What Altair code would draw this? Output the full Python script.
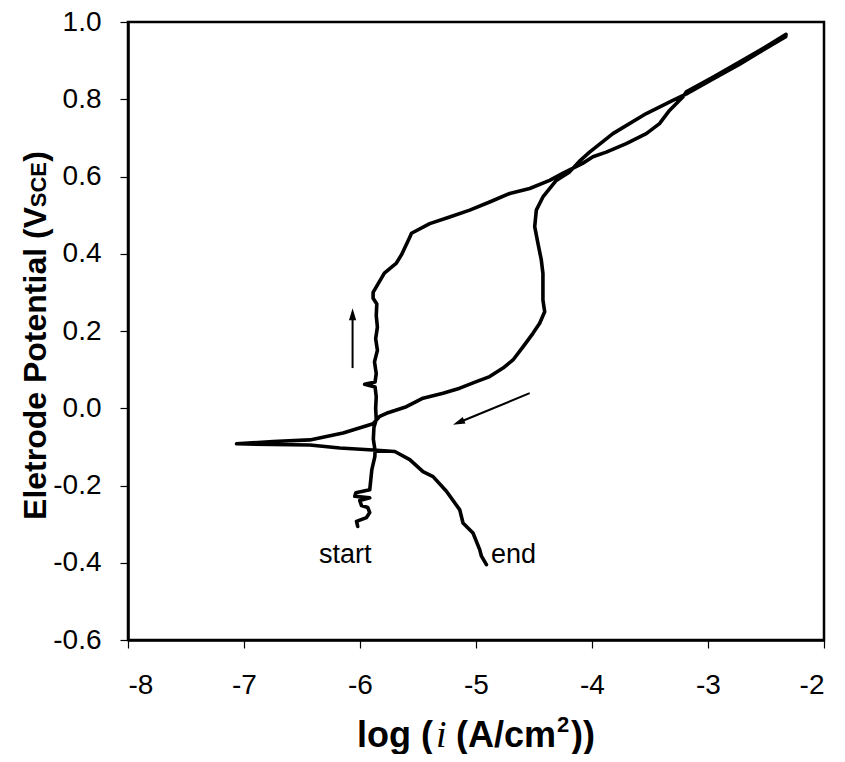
import altair as alt
import pandas as pd

# forward (anodic) scan: start -> top
fwd_x = [-6.02, -6.03, -5.944, -5.916, -5.933, -5.987, -6.002, -5.916, -6.045, -6.036,
         -5.916, -5.907, -5.898, -5.872, -5.87, -5.885, -5.88, -5.86, -5.865, -5.86,
         -5.87, -5.96, -5.87, -5.86, -5.875, -5.85, -5.865, -5.85, -5.86, -5.855,
         -5.887, -5.887, -5.79, -5.686, -5.643, -5.571, -5.556, -5.399, -5.227, -5.054,
         -4.882, -4.710, -4.537, -4.365, -4.253, -4.081, -3.992, -3.877, -3.705, -3.532,
         -3.418, -3.332, -3.217, -3.188, -2.959, -2.729, -2.557, -2.327]
fwd_y = [-0.306, -0.293, -0.283, -0.270, -0.257, -0.252, -0.239, -0.232, -0.228, -0.219,
         -0.211, -0.185, -0.159, -0.125, -0.11, -0.08, -0.05, -0.03, 0.0, 0.03,
         0.055, 0.062, 0.068, 0.09, 0.12, 0.15, 0.18, 0.21, 0.24, 0.27,
         0.285, 0.30, 0.35, 0.376, 0.397, 0.443, 0.453, 0.478, 0.495, 0.513,
         0.534, 0.556, 0.569, 0.590, 0.608, 0.634, 0.651, 0.663, 0.685, 0.711,
         0.737, 0.771, 0.806, 0.819, 0.857, 0.896, 0.926, 0.968]

# reverse scan: top -> end
rev_x = [-2.33, -2.56, -2.73, -2.96, -3.19, -3.303, -3.532, -3.820, -4.021, -4.10,
         -4.193, -4.308, -4.423, -4.480, -4.494, -4.466, -4.437, -4.423, -4.423, -4.408,
         -4.451, -4.509, -4.595, -4.681, -4.767, -4.882, -4.997, -5.140, -5.284, -5.457,
         -5.600, -5.772, -5.830, -5.887, -6.146, -6.432, -6.749, -7.064, -6.75, -6.432,
         -6.174, -5.887, -5.700, -5.571, -5.457, -5.370, -5.255, -5.140, -5.112, -5.026,
         -4.968, -4.953, -4.910]
rev_y = [0.962, 0.921, 0.890, 0.852, 0.813, 0.797, 0.763, 0.711, 0.663, 0.642,
         0.612, 0.590, 0.547, 0.513, 0.470, 0.427, 0.384, 0.349, 0.280, 0.250,
         0.220, 0.194, 0.159, 0.125, 0.104, 0.082, 0.069, 0.052, 0.039, 0.026,
         0.004, -0.013, -0.021, -0.040, -0.064, -0.082, -0.086, -0.092, -0.094, -0.095,
         -0.103, -0.108, -0.112, -0.133, -0.164, -0.177, -0.215, -0.263, -0.297, -0.323,
         -0.366, -0.383, -0.405]

x_ticks = [-8, -7, -6, -5, -4, -3, -2]
y_ticks = [-0.6, -0.4, -0.2, 0.0, 0.2, 0.4, 0.6, 0.8, 1.0]

# annotations (data coordinates)
arrow_x = [-6.064, -4.537]
arrow_y = [0.104, 0.039]
arrow_x2 = [-6.064, -5.134]
arrow_y2 = [0.240, -0.035]
head_x = [-6.064, -5.198]
head_y = [0.259, -0.043]
head_angle = [0, 247.5]

label_text = ["start", "end"]
label_x = [-6.127, -4.87]
label_y = [-0.379, -0.379]

W, H = 696, 618

curve = pd.DataFrame({
    "x": fwd_x + rev_x,
    "y": fwd_y + rev_y,
    "i": list(range(len(fwd_x) + len(rev_x))),
})

xs = alt.Scale(domain=[-8, -2], nice=False, zero=False)
ys = alt.Scale(domain=[-0.6, 1.0], nice=False, zero=False)
MINUS = "\u2212"

line = alt.Chart(curve).mark_line(
    color="black", strokeWidth=3.6, strokeJoin="round", strokeCap="round"
).encode(
    x=alt.X("x:Q", scale=xs, axis=alt.Axis(
        values=x_ticks, title=None,
        labelExpr=f"replace(format(datum.value, 'd'), '{MINUS}', '-')",
        labelPadding=23)),
    y=alt.Y("y:Q", scale=ys, axis=alt.Axis(
        values=y_ticks, title=None,
        labelExpr=f"replace(format(datum.value, '.1f'), '{MINUS}', '-')",
        labelPadding=19)),
    order="i:Q",
)

arr = pd.DataFrame({"x": arrow_x, "y": arrow_y, "x2": arrow_x2, "y2": arrow_y2})
shafts = alt.Chart(arr).mark_rule(color="black", strokeWidth=2).encode(
    x=alt.X("x:Q", scale=xs), y=alt.Y("y:Q", scale=ys), x2="x2:Q", y2="y2:Q")

hd = pd.DataFrame({"x": head_x, "y": head_y, "a": head_angle})
heads = alt.Chart(hd).mark_point(
    shape="M0,0L0.6,2L-0.6,2Z", filled=True, size=144, color="black", opacity=1
).encode(x=alt.X("x:Q", scale=xs), y=alt.Y("y:Q", scale=ys),
         angle=alt.Angle("a:Q", scale=None))

lab = pd.DataFrame({"t": label_text, "x": label_x, "y": label_y})
lab_start = alt.Chart(lab.iloc[[0]]).mark_text(
    font="Liberation Sans", fontSize=27, align="center", baseline="middle", color="black"
).encode(x=alt.X("x:Q", scale=xs), y=alt.Y("y:Q", scale=ys), text="t:N")
lab_end = alt.Chart(lab.iloc[[1]]).mark_text(
    font="Liberation Sans", fontSize=27, align="left", baseline="middle", color="black"
).encode(x=alt.X("x:Q", scale=xs), y=alt.Y("y:Q", scale=ys), text="t:N")

def txt(s, px, py, size, align, angle=0, font="Liberation Sans", weight="bold", style="normal"):
    kw = dict(font=font, fontSize=size, fontWeight=weight, fontStyle=style,
              align=align, baseline="alphabetic", color="black")
    if angle:
        kw["angle"] = angle
    return alt.Chart(pd.DataFrame({"t": [s]})).mark_text(**kw).encode(
        text="t:N", x=alt.value(px), y=alt.value(py))

# y-axis title: "Eletrode Potential (V" + small-caps "SCE" + ")"
YT_X = -82
yt1 = txt(")", YT_X, 129, 32, "right", angle=270)
yt2 = txt("SCE", YT_X, 140, 22, "right", angle=270)
yt3 = txt("Eletrode Potential (V", YT_X, 185, 32, "right", angle=270)

# x-axis title: "log (" + italic i + "  (A/cm" + superscript 2 + "))"
XT_Y = 725
xt1 = txt("log (", 305, XT_Y, 36, "right")
xt2 = txt("i", 308, XT_Y, 38, "left", font="Liberation Serif", weight="normal", style="italic")
xt3 = txt("(A/cm", 328, XT_Y, 36, "left")
xt4 = txt("2", 429, XT_Y - 15, 22, "left")
xt5 = txt("))", 443, XT_Y, 36, "left")

chart = alt.layer(
    line, shafts, heads, lab_start, lab_end, yt1, yt2, yt3, xt1, xt2, xt3, xt4, xt5
).properties(
    width=W, height=H,
    autosize=alt.AutoSizeParams(type="none"),
    padding={"left": 120, "top": 14, "right": 10, "bottom": 114},
).configure_view(
    stroke="black", strokeWidth=2.5
).configure_axis(
    domainColor="black", domainWidth=2.5, tickColor="black", tickWidth=1.2, tickSize=8,
    labelFont="Liberation Sans", labelFontSize=28, labelColor="black", grid=False
)

chart.save("out.html", embed_options={"renderer": "svg", "actions": False})
